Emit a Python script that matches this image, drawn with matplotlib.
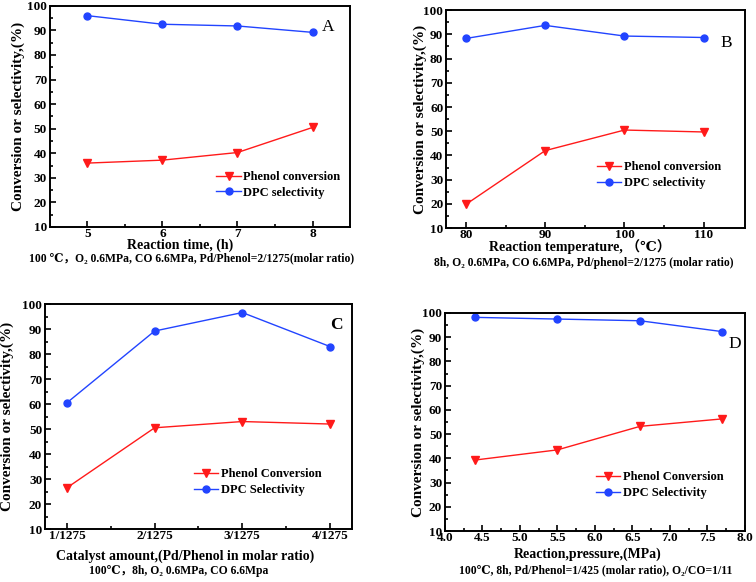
import numpy as np
import matplotlib
matplotlib.use('Agg')
import matplotlib.pyplot as plt
from matplotlib.ticker import MultipleLocator, FixedLocator

plt.rcParams['font.family'] = ['Liberation Serif', 'DejaVu Serif', 'Noto Sans CJK SC']
plt.rcParams['font.weight'] = 'bold'

# Datos de cada panel
time_h = [5, 6, 7, 8]
phenol_a = [36.0, 37.2, 40.3, 50.5]
dpc_a = [96.0, 92.5, 91.8, 89.2]

temp_c = [80, 90, 100, 110]
phenol_b = [19.8, 42.0, 50.5, 49.7]
dpc_b = [88.3, 93.7, 89.3, 88.7]

cat_labels = ['1/1275', '2/1275', '3/1275', '4/1275']
phenol_c = [26.5, 50.5, 53.0, 52.0]
dpc_c = [60.5, 89.2, 96.6, 83.0]

pressure = [4.4, 5.5, 6.6, 7.7]
phenol_d = [39.3, 43.5, 53.2, 56.3]
dpc_d = [98.2, 97.5, 96.8, 92.3]

RED = '#ff1a1a'
BLUE = '#2244ff'

fig = plt.figure(figsize=(7.56, 5.82), dpi=100)


def make_panel(rect, x, phenol, dpc, names, letter, letter_pos, letter_bold,
               xlim, xmajor, xminor, xlabel, subtitle, xl_pos, sub_pos, ylab_x, leg_pos):
    ax = fig.add_axes(rect)
    ax.plot(x, phenol, color=RED, marker='v', markersize=5.5, lw=1, label=names[0])
    ax.plot(x, dpc, color=BLUE, marker='o', markersize=5, lw=1, label=names[1])
    ax.set_xlim(*xlim)
    ax.set_ylim(10, 100)
    ax.yaxis.set_major_locator(MultipleLocator(10))
    ax.yaxis.set_minor_locator(MultipleLocator(5))
    ax.xaxis.set_major_locator(FixedLocator(xmajor))
    ax.xaxis.set_minor_locator(FixedLocator(xminor))
    ax.tick_params(which='both', direction='in', labelsize=9.5, width=1.2)
    ax.tick_params(which='major', length=4)
    ax.tick_params(which='minor', length=2.5)
    ax.tick_params(axis='x', pad=0.5)
    ax.tick_params(axis='y', pad=2)
    for s in ax.spines.values():
        s.set_linewidth(1.4)
    ax.set_ylabel('Conversion or selectivity,(%)', fontsize=11, fontweight='bold')
    ax.yaxis.set_label_coords(ylab_x, 0.5)
    ax.text(xl_pos[0], xl_pos[1], xlabel, transform=ax.transAxes, ha='center', va='center',
            fontsize=10, fontweight='bold')
    ax.text(sub_pos[0], sub_pos[1], subtitle, transform=ax.transAxes, ha='center', va='center',
            fontsize=8.4, fontweight='bold')
    ax.text(letter_pos[0], letter_pos[1], letter, transform=ax.transAxes, ha='center', va='center',
            fontsize=12.5, fontweight='bold' if letter_bold else 'normal')
    ax.legend(loc='center left', bbox_to_anchor=leg_pos, frameon=False, fontsize=9,
              handlelength=1.95, handletextpad=0.2, labelspacing=0.3,
              borderaxespad=0, borderpad=0)
    return ax


# A
make_panel([0.066, 0.610, 0.397, 0.380], time_h, phenol_a, dpc_a,
           ['Phenol conversion', 'DPC selectivity'], 'A', (0.927, 0.905), False,
           (4.5, 8.5), [5, 6, 7, 8], [5.5, 6.5, 7.5], 'Reaction time, (h)',
           '100 ℃，O₂ 0.6MPa, CO 6.6MPa, Pd/Phenol=2/1275(molar ratio)',
           (0.433, -0.082), (0.473, -0.142), -0.083, (0.555, 0.19))

# B
make_panel([0.590, 0.608, 0.3955, 0.3746], temp_c, phenol_b, dpc_b,
           ['Phenol conversion', 'DPC selectivity'], 'B', (0.936, 0.85), False,
           (77.5, 115.2), [80, 90, 100, 110], [85, 95, 105], 'Reaction temperature, （℃）',
           '8h, O₂ 0.6MPa, CO 6.6MPa, Pd/phenol=2/1275 (molar ratio)',
           (0.448, -0.086), (0.46, -0.158), -0.064, (0.505, 0.243))

# C
make_panel([0.0595, 0.091, 0.406, 0.3866], [1, 2, 3, 4], phenol_c, dpc_c,
           ['Phenol Conversion', 'DPC Selectivity'], 'C', (0.951, 0.907), True,
           (0.75, 4.25), [1, 2, 3, 4], [1.5, 2.5, 3.5], 'Catalyst amount,(Pd/Phenol in molar ratio)',
           '100℃，8h, O₂ 0.6MPa, CO 6.6Mpa',
           (0.456, -0.12), (0.436, -0.187), -0.10, (0.485, 0.208))
fig.axes[-1].set_xticklabels(cat_labels)

# D
make_panel([0.5886, 0.0876, 0.3968, 0.3746], pressure, phenol_d, dpc_d,
           ['Phenol Conversion', 'DPC Selectivity'], 'D', (0.967, 0.858), False,
           (4.0, 8.0), np.arange(4.0, 8.01, 0.5), np.arange(4.25, 8.0, 0.5), 'Reaction,pressure,(MPa)',
           '100℃, 8h, Pd/Phenol=1/425 (molar ratio), O₂/CO=1/11',
           (0.477, -0.105), (0.503, -0.179), -0.067, (0.503, 0.211))

plt.savefig('out.png', dpi=100)
